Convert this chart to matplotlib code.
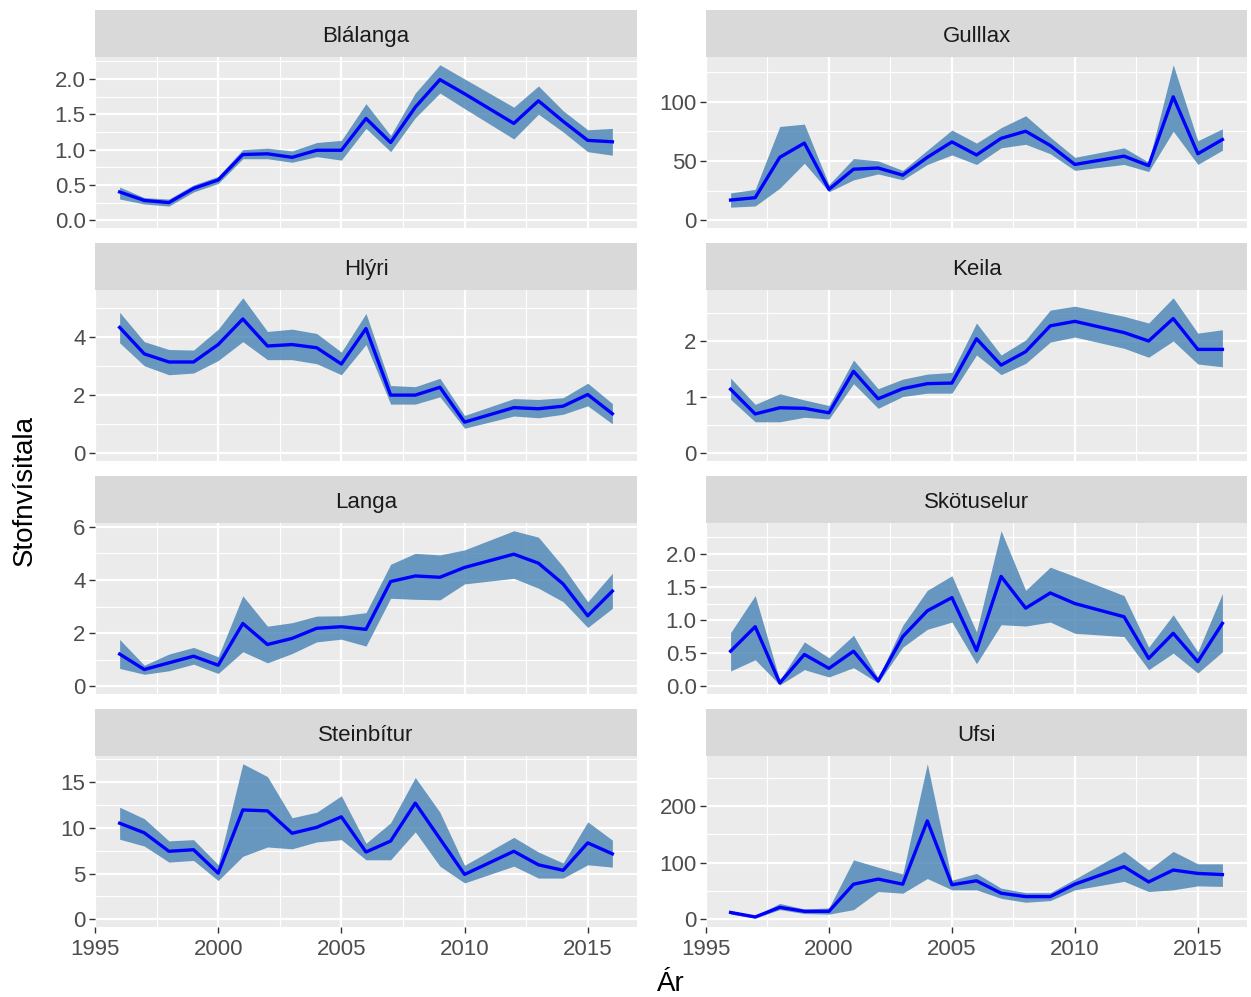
import numpy as np
import matplotlib
matplotlib.use("Agg")
import matplotlib.pyplot as plt
from matplotlib.ticker import FixedLocator

plt.rcParams['font.family'] = ['Liberation Sans', 'DejaVu Sans']

# --- data ---
years = [1996, 1997, 1998, 1999, 2000, 2001, 2002, 2003, 2004, 2005,
         2006, 2007, 2008, 2009, 2010, 2012, 2013, 2014, 2015, 2016]

blalanga_mid = [0.40, 0.28, 0.25, 0.45, 0.57, 0.93, 0.94, 0.89, 0.99, 0.99,
                1.44, 1.10, 1.60, 1.99, 1.79, 1.37, 1.69, 1.40, 1.13, 1.11]
blalanga_lo = [0.30, 0.23, 0.20, 0.40, 0.52, 0.87, 0.87, 0.82, 0.90, 0.85,
               1.30, 0.97, 1.45, 1.80, 1.58, 1.15, 1.50, 1.25, 0.97, 0.92]
blalanga_hi = [0.47, 0.32, 0.30, 0.50, 0.62, 1.00, 1.02, 0.98, 1.10, 1.13,
               1.65, 1.20, 1.80, 2.20, 2.00, 1.60, 1.90, 1.55, 1.28, 1.30]

gulllax_mid = [17, 19, 53, 65, 26, 43, 44, 38, 53, 66,
               55, 69, 75, 63, 47, 54, 46, 104, 56, 68]
gulllax_lo = [11, 12, 27, 48, 24, 34, 39, 34, 47, 55,
              47, 61, 64, 56, 42, 47, 41, 75, 47, 59]
gulllax_hi = [23, 26, 79, 81, 30, 52, 50, 42, 59, 76,
              65, 78, 88, 70, 53, 61, 49, 131, 67, 77]

hlyri_mid = [4.33, 3.42, 3.14, 3.14, 3.74, 4.62, 3.69, 3.74, 3.63, 3.07,
             4.29, 2.00, 2.00, 2.27, 1.07, 1.57, 1.53, 1.62, 2.02, 1.36]
hlyri_lo = [3.80, 3.01, 2.70, 2.76, 3.19, 3.84, 3.22, 3.22, 3.08, 2.70,
            3.74, 1.69, 1.69, 1.94, 0.86, 1.28, 1.22, 1.34, 1.63, 1.01]
hlyri_hi = [4.85, 3.84, 3.57, 3.55, 4.27, 5.35, 4.19, 4.27, 4.12, 3.48,
            4.81, 2.33, 2.29, 2.58, 1.30, 1.88, 1.85, 1.91, 2.41, 1.71]

keila_mid = [1.14, 0.70, 0.81, 0.80, 0.72, 1.46, 0.97, 1.15, 1.24, 1.25,
             2.04, 1.57, 1.81, 2.27, 2.35, 2.15, 2.00, 2.40, 1.85, 1.85]
keila_lo = [0.96, 0.56, 0.56, 0.64, 0.61, 1.24, 0.80, 1.01, 1.07, 1.07,
            1.75, 1.40, 1.60, 1.98, 2.07, 1.87, 1.71, 2.00, 1.59, 1.54]
keila_hi = [1.34, 0.87, 1.06, 0.95, 0.85, 1.66, 1.15, 1.32, 1.41, 1.44,
            2.32, 1.75, 2.02, 2.55, 2.62, 2.44, 2.32, 2.77, 2.14, 2.20]

langa_mid = [1.21, 0.63, 0.88, 1.13, 0.79, 2.36, 1.57, 1.80, 2.18, 2.24,
             2.14, 3.94, 4.15, 4.10, 4.47, 4.97, 4.63, 3.85, 2.65, 3.58]
langa_lo = [0.67, 0.45, 0.58, 0.83, 0.48, 1.30, 0.88, 1.23, 1.67, 1.77,
            1.51, 3.31, 3.27, 3.25, 3.85, 4.06, 3.69, 3.18, 2.21, 2.93]
langa_hi = [1.76, 0.79, 1.21, 1.46, 1.11, 3.40, 2.26, 2.39, 2.64, 2.65,
            2.77, 4.59, 5.00, 4.94, 5.13, 5.85, 5.61, 4.50, 3.18, 4.25]

skotuselur_mid = [0.53, 0.90, 0.05, 0.48, 0.27, 0.53, 0.08, 0.75, 1.14, 1.34,
                  0.54, 1.66, 1.18, 1.41, 1.25, 1.05, 0.42, 0.80, 0.37, 0.95]
skotuselur_lo = [0.23, 0.40, 0.02, 0.25, 0.14, 0.28, 0.05, 0.59, 0.86, 0.97,
                 0.34, 0.93, 0.91, 0.97, 0.80, 0.75, 0.25, 0.50, 0.20, 0.52]
skotuselur_hi = [0.81, 1.37, 0.09, 0.67, 0.43, 0.77, 0.12, 0.92, 1.45, 1.67,
                 0.82, 2.35, 1.45, 1.80, 1.66, 1.37, 0.59, 1.08, 0.52, 1.40]

steinbitur_mid = [10.5, 9.45, 7.43, 7.6, 5.04, 11.95, 11.85, 9.4, 10.05, 11.2,
                  7.35, 8.55, 12.7, 8.8, 4.9, 7.43, 5.95, 5.35, 8.35, 7.15]
steinbitur_lo = [8.75, 8.0, 6.25, 6.43, 4.23, 6.88, 7.9, 7.7, 8.45, 8.7,
                 6.5, 6.5, 9.55, 5.8, 3.97, 5.8, 4.5, 4.5, 5.95, 5.7]
steinbitur_hi = [12.25, 11.0, 8.57, 8.7, 5.96, 17.0, 15.6, 11.1, 11.7, 13.5,
                 8.3, 10.55, 15.5, 11.7, 5.9, 8.95, 7.35, 6.15, 10.65, 8.65]

ufsi_mid = [12, 4, 21, 14, 14, 62, 71, 62, 174, 61,
            68, 46, 40, 40, 62, 93, 66, 87, 81, 79]
ufsi_lo = [9, 2, 17, 10, 9, 17, 49, 46, 72, 52,
           52, 37, 30, 33, 52, 67, 49, 52, 59, 58]
ufsi_hi = [15, 6, 28, 18, 20, 105, 92, 80, 275, 69,
           81, 55, 47, 47, 71, 120, 87, 120, 98, 98]

species = ["Blálanga", "Gulllax", "Hlýri", "Keila",
           "Langa", "Skötuselur", "Steinbítur", "Ufsi"]
y_breaks = [[0, 0.5, 1.0, 1.5, 2.0], [0, 50, 100], [0, 2, 4], [0, 1, 2],
            [0, 2, 4, 6], [0, 0.5, 1.0, 1.5, 2.0], [0, 5, 10, 15], [0, 100, 200]]
y_labels = [["0.0", "0.5", "1.0", "1.5", "2.0"], ["0", "50", "100"],
            ["0", "2", "4"], ["0", "1", "2"], ["0", "2", "4", "6"],
            ["0.0", "0.5", "1.0", "1.5", "2.0"], ["0", "5", "10", "15"],
            ["0", "100", "200"]]
x_breaks = [1995, 2000, 2005, 2010, 2015]

series = [(blalanga_mid, blalanga_lo, blalanga_hi),
          (gulllax_mid, gulllax_lo, gulllax_hi),
          (hlyri_mid, hlyri_lo, hlyri_hi),
          (keila_mid, keila_lo, keila_hi),
          (langa_mid, langa_lo, langa_hi),
          (skotuselur_mid, skotuselur_lo, skotuselur_hi),
          (steinbitur_mid, steinbitur_lo, steinbitur_hi),
          (ufsi_mid, ufsi_lo, ufsi_hi)]

# --- layout in pixels ---
W, H = 1251, 997
fig = plt.figure(figsize=(W / 100, H / 100), dpi=100)


def box(x0, y0, x1, y1):
    return [x0 / W, 1 - y1 / H, (x1 - x0) / W, (y1 - y0) / H]


cols = [(95, 637), (706, 1247)]
tick_col = "#333333"
lab_col = "#4D4D4D"

for i, name in enumerate(species):
    r, c = divmod(i, 2)
    x0, x1 = cols[c]
    top = 10 + 233 * r
    s_bot = top + 47
    p_bot = top + 218

    # strip
    sax = fig.add_axes(box(x0, top, x1, s_bot))
    sax.set_facecolor("#D9D9D9")
    sax.set_xticks([])
    sax.set_yticks([])
    for sp in sax.spines.values():
        sp.set_visible(False)
    sax.text(0.5, 0.44, name, ha="center", va="center", fontsize=16,
             color="#1A1A1A", transform=sax.transAxes)

    # panel
    ax = fig.add_axes(box(x0, s_bot, x1, p_bot))
    ax.set_facecolor("#EBEBEB")
    for sp in ax.spines.values():
        sp.set_visible(False)
    mid, lo, hi = series[i]
    yr = np.array(years)
    ax.fill_between(yr, lo, hi, color="#4682B4", alpha=0.8, linewidth=0, zorder=2)
    ax.plot(yr, mid, color="#0000FF", linewidth=2.4, zorder=3)

    # y axis always includes 0, plus 5% expansion like ggplot
    ymin, ymax = min(0, min(lo)), max(hi)
    pad = (ymax - ymin) * 0.05
    ax.set_ylim(ymin - pad, ymax + pad)
    ax.set_xlim(1995, 2017)

    yb = y_breaks[i]
    step = yb[1] - yb[0]
    minors = [yb[0] - step / 2] + [b + step / 2 for b in yb]
    ax.yaxis.set_major_locator(FixedLocator(yb))
    ax.yaxis.set_minor_locator(FixedLocator(minors))
    ax.set_yticklabels(y_labels[i])
    ax.xaxis.set_major_locator(FixedLocator(x_breaks))
    ax.xaxis.set_minor_locator(FixedLocator([b + 2.5 for b in x_breaks]))

    ax.grid(which="major", color="white", linewidth=1.6, zorder=1)
    ax.grid(which="minor", color="white", linewidth=0.8, zorder=1)
    ax.set_axisbelow(True)

    ax.tick_params(axis="y", which="major", length=4.3, width=1.0, color=tick_col,
                   labelsize=16, labelcolor=lab_col, pad=2.5)
    ax.tick_params(which="minor", length=0)
    if r == 3:
        ax.tick_params(axis="x", which="major", length=4.3, width=1.0, color=tick_col,
                       labelsize=16, labelcolor=lab_col, pad=4.5)
        ax.set_xticklabels([str(b) for b in x_breaks])
    else:
        ax.tick_params(axis="x", which="major", length=0, labelbottom=False)

fig.text(671 / W, 1 - 984 / H, "Ár", ha="center", va="center", fontsize=20,
         color="black")
fig.text(25 / W, 1 - 490 / H, "Stofnvísitala", ha="center", va="center",
         rotation=90, fontsize=20, color="black")

fig.savefig("out.png", dpi=100)
